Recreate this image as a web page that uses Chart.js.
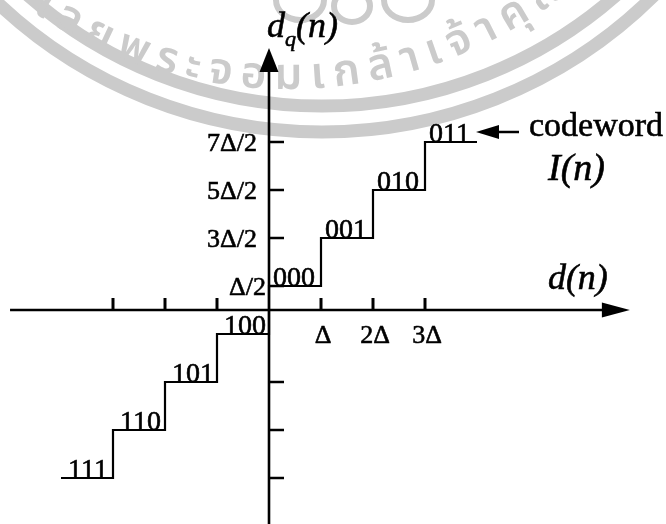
<!DOCTYPE html>
<html>
<head>
<meta charset="utf-8">
<script src="https://cdn.jsdelivr.net/npm/chart.js@4.4.0/dist/chart.umd.min.js"></script>
<style>
  html, body { margin: 0; padding: 0; background: #fff; }
  #wrap { width: 666px; height: 524px; }
</style>
</head>
<body>
<div id="wrap"><canvas id="Chart" width="666" height="524"></canvas></div>
<script>
//quantizer: decision levels and output levels (in units of delta)
var decisionLevels = [-4, -3, -2, -1, 0, 1, 2, 3, 4];
var outputLevels = [-3.5, -2.5, -1.5, -0.5, 0.5, 1.5, 2.5, 3.5];
var codewords = ["111", "110", "101", "100", "000", "001", "010", "011"];

//axis ticks
var xTicks = [-3, -2, -1, 1, 2, 3];
var xTickLabels = ["", "", "", "Δ", "2Δ", "3Δ"];
var yTicks = [-3.5, -2.5, -1.5, 0.5, 1.5, 2.5, 3.5];
var yTickLabels = ["", "", "", "Δ/2", "3Δ/2", "5Δ/2", "7Δ/2"];

//where the drawn axes start and end
var xAxisRange = [-4.98, 6.94];
var yAxisRange = [-4.6, 5.46];

//watermark text, one grapheme per entry
var sealText = ["โ", "ล", "ย", "พ", "ร", "ะ", "จ", "อ", "ม", "เ", "ก", "ล้", "า", "เ", "จ้", "า", "คุ", "ณ", "ท", "ห", "า", "ร"];

var SERIF = "'Liberation Serif', 'DejaVu Serif', serif";
var GREY = "#cbcbcb";

//build the staircase from the levels
var stairs = [];
for (var i = 0; i < outputLevels.length; i++) {
  stairs.push({ x: decisionLevels[i], y: outputLevels[i] });
  stairs.push({ x: decisionLevels[i + 1], y: outputLevels[i] });
}

function drawSeal(ctx) {
  ctx.save();
  ctx.strokeStyle = GREY;
  ctx.lineWidth = 13;
  ctx.beginPath();
  ctx.arc(322, -340, 472, 0, Math.PI);
  ctx.stroke();
  ctx.beginPath();
  ctx.arc(322, -340, 446, 0, Math.PI);
  ctx.stroke();

  //emblem loops at the top
  ctx.lineWidth = 6;
  [[300, 0, 24, 20], [352, 6, 18, 16], [408, 0, 24, 20]].forEach(function (e) {
    ctx.beginPath();
    ctx.ellipse(e[0], e[1], e[2], e[3], 0, 0, Math.PI * 2);
    ctx.stroke();
  });

  //text round the seal, baseline on a circle
  var cx = 287, cy = -367, r = 456;
  ctx.fillStyle = GREY;
  ctx.font = "600 44px 'Noto Sans Thai', 'Noto Sans', 'DejaVu Sans', sans-serif";
  ctx.textAlign = "center";
  ctx.textBaseline = "alphabetic";
  //centre angle of every grapheme, anchored on the third one
  var pos = [], s = 0;
  sealText.forEach(function (ch) {
    var w = ctx.measureText(ch).width + 9;
    pos.push(s + w / 2);
    s += w;
  });
  var anchor = (115 * Math.PI) / 180;
  sealText.forEach(function (ch, k) {
    var ang = anchor - (pos[k] - pos[2]) / r;
    ctx.save();
    ctx.translate(cx + r * Math.cos(ang), cy + r * Math.sin(ang));
    ctx.rotate(ang - Math.PI / 2);
    ctx.fillText(ch, 0, 0);
    ctx.restore();
  });
  ctx.restore();
}

//text with a thin outline so it looks as heavy as print
function inkText(ctx, t, x, y) {
  ctx.fillText(t, x, y);
  ctx.strokeText(t, x, y);
}

function italicLabel(ctx, parts, x, y) {
  //parts: [text, size, dy]
  parts.forEach(function (p) {
    ctx.font = "italic " + p[1] + "px " + SERIF;
    inkText(ctx, p[0], x, y + p[2]);
    x += ctx.measureText(p[0]).width;
  });
}

var marks = {
  id: "marks",
  beforeDatasetsDraw: function (chart) {
    drawSeal(chart.ctx);
  },
  afterDatasetsDraw: function (chart) {
    var ctx = chart.ctx;
    var xs = chart.scales.x;
    var ys = chart.scales.y;
    var x0 = xs.getPixelForValue(0);
    var y0 = ys.getPixelForValue(0);

    ctx.save();
    ctx.fillStyle = "#000";
    ctx.strokeStyle = "#000";

    //x ticks
    ctx.lineWidth = 3;
    xTicks.forEach(function (v) {
      var px = xs.getPixelForValue(v);
      ctx.beginPath();
      ctx.moveTo(px, y0 - 12);
      ctx.lineTo(px, y0 + 1);
      ctx.stroke();
    });

    //y ticks
    ctx.lineWidth = 2.5;
    yTicks.forEach(function (v) {
      var py = ys.getPixelForValue(v);
      ctx.beginPath();
      ctx.moveTo(x0, py);
      ctx.lineTo(x0 + 15, py);
      ctx.stroke();
    });

    //arrow heads
    var tipX = xs.getPixelForValue(xAxisRange[1]);
    ctx.beginPath();
    ctx.moveTo(tipX, y0);
    ctx.lineTo(tipX - 28, y0 - 7.5);
    ctx.lineTo(tipX - 28, y0 + 7.5);
    ctx.closePath();
    ctx.fill();
    var tipY = ys.getPixelForValue(yAxisRange[1]);
    ctx.beginPath();
    ctx.moveTo(x0, tipY);
    ctx.lineTo(x0 - 9.5, tipY + 24);
    ctx.lineTo(x0 + 9.5, tipY + 24);
    ctx.closePath();
    ctx.fill();

    //pointer to the last codeword
    var endX = xs.getPixelForValue(decisionLevels[decisionLevels.length - 1]);
    var topY = ys.getPixelForValue(outputLevels[outputLevels.length - 1]);
    var ay = topY - 10;
    ctx.lineWidth = 2.5;
    ctx.beginPath();
    ctx.moveTo(endX + 12, ay);
    ctx.lineTo(endX + 42, ay);
    ctx.stroke();
    ctx.beginPath();
    ctx.moveTo(endX - 1, ay);
    ctx.lineTo(endX + 22, ay - 7);
    ctx.lineTo(endX + 22, ay + 7);
    ctx.closePath();
    ctx.fill();

    //text
    ctx.lineWidth = 0.6;
    ctx.font = "26px " + SERIF;
    ctx.textAlign = "center";
    ctx.textBaseline = "middle";
    xTicks.forEach(function (v, i) {
      if (xTickLabels[i]) inkText(ctx, xTickLabels[i], xs.getPixelForValue(v) + 2, y0 + 26);
    });
    ctx.textAlign = "right";
    yTicks.forEach(function (v, i) {
      if (!yTickLabels[i]) return;
      //the lowest level has no tick of its own, the step covers it
      var off = v === outputLevels[4] ? 3 : 12;
      inkText(ctx, yTickLabels[i], x0 - off, ys.getPixelForValue(v) + 2);
    });

    //codewords on the steps
    ctx.font = "28px " + SERIF;
    ctx.textAlign = "left";
    ctx.textBaseline = "alphabetic";
    codewords.forEach(function (c, i) {
      var px = xs.getPixelForValue(decisionLevels[i]);
      var py = ys.getPixelForValue(outputLevels[i]);
      inkText(ctx, c, px + (outputLevels[i] > 0 ? 4 : 7), py);
    });

    ctx.font = "34px " + SERIF;
    inkText(ctx, "codeword", endX + 52, topY - 6);
    italicLabel(ctx, [["I(n)", 38, 0]], endX + 71, topY + 38);

    //axis names
    italicLabel(ctx, [["d(n)", 36, 0]], tipX - 82, y0 - 21);
    italicLabel(ctx, [["d", 36, 0], ["q", 22, 9], ["(n)", 36, 0]], x0 - 2, tipY - 11);
    ctx.restore();
  }
};

var ctx = document.getElementById("Chart").getContext("2d");
var myChart = new Chart(ctx, {
  type: "line",
  data: {
    datasets: [
      {
        label: "quantizer",
        data: stairs,
        borderColor: "#000",
        borderWidth: 2.2,
      },
      {
        label: "x axis",
        data: [
          { x: xAxisRange[0], y: 0 },
          { x: xAxisRange[1] - 0.5, y: 0 },
        ],
        borderColor: "#000",
        borderWidth: 2.6,
      },
      {
        label: "y axis",
        data: [
          { x: 0, y: yAxisRange[0] },
          { x: 0, y: yAxisRange[1] - 0.45 },
        ],
        borderColor: "#000",
        borderWidth: 2.6,
      },
    ],
  },
  options: {
    responsive: false,
    animation: false,
    parsing: false,
    elements: { point: { radius: 0 }, line: { tension: 0 } },
    layout: { padding: 0 },
    plugins: { legend: { display: false }, tooltip: { enabled: false } },
    scales: {
      x: { type: "linear", display: false, min: -269 / 52, max: (666 - 269) / 52 },
      y: { type: "linear", display: false, min: -(524 - 310) / 48, max: 310 / 48 },
    },
  },
  plugins: [marks],
});
</script>
</body>
</html>
